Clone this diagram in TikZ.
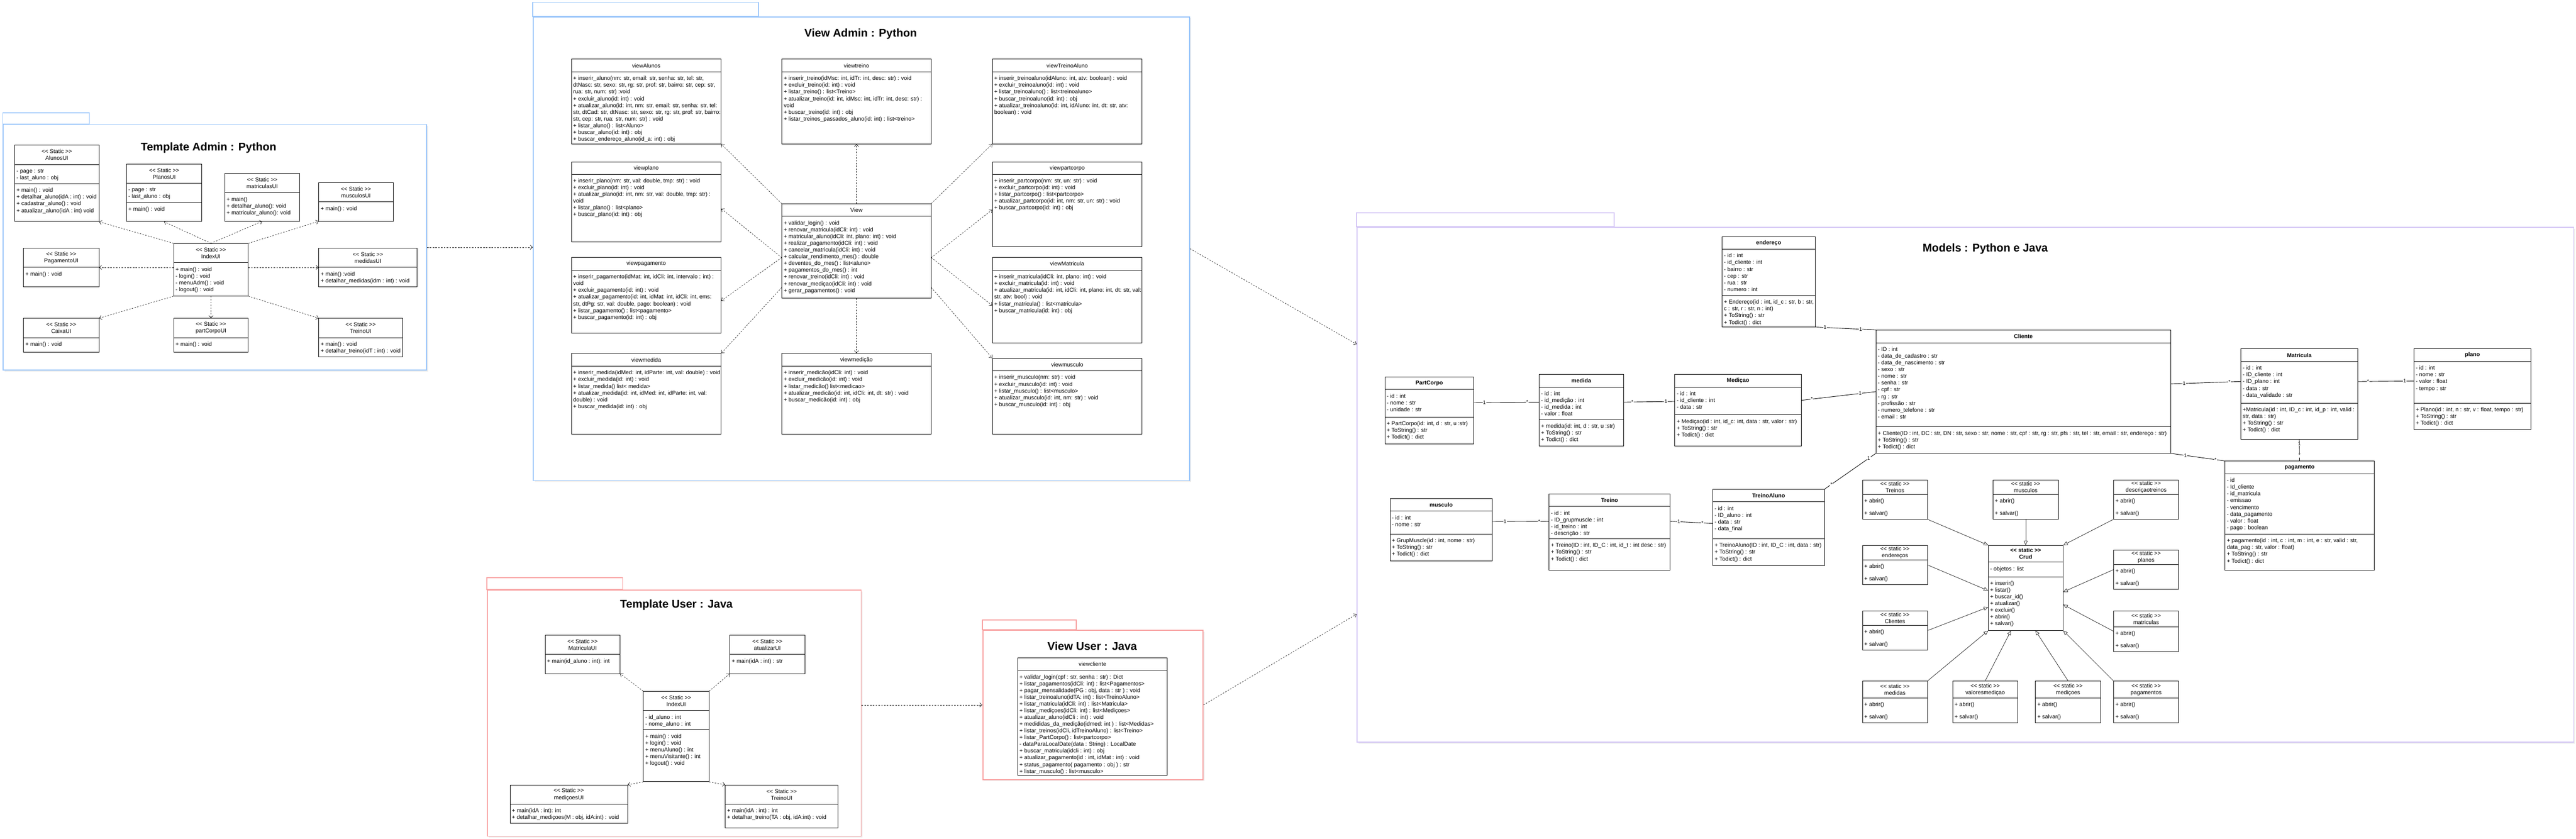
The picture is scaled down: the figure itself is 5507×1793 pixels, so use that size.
\documentclass[tikz,border=0pt]{standalone}
\usepackage{fontspec}
\setmainfont{Liberation Sans}[Ligatures=TeXOff]
\usetikzlibrary{shapes.multipart,arrows.meta,shadows}

\definecolor{pkgblue}{RGB}{150,195,250}
\definecolor{pkgred}{RGB}{248,160,160}
\definecolor{pkgpurple}{RGB}{210,195,245}

% class box parts: width, height, text
\newcommand{\hd}[3]{\parbox[c][#2pt][c]{#1pt}{\centering #3}}
\newcommand{\bd}[3]{\parbox[t][#2pt][t]{#1pt}{\vspace*{7.5pt}\raggedright\leftskip=4pt\rightskip=0pt plus 1fil\strut #3}}

\tikzset{
  uml/.style={draw, rectangle split, rectangle split parts=#1, anchor=north west, inner sep=0pt, line width=1pt, font=\fontsize{12}{14.4}\selectfont},
  dep/.style={dash pattern=on 3pt off 3pt, line width=0.7pt, -{Straight Barb[length=5pt,width=9pt]}},
  inh/.style={line width=0.7pt, -{Triangle[open,length=9pt,width=8pt]}},
  assoc/.style={line width=1pt},
  mult/.style={fill=white, inner sep=0.8pt, font=\fontsize{11}{12}\selectfont},
  pkg/.style={draw=#1, line width=2pt, fill=white, anchor=north west, inner sep=0pt, drop shadow={shadow xshift=3pt, shadow yshift=-3pt, fill=black!15}},
  pkgtab/.style={draw=#1, line width=2pt, fill=white},
  ttl/.style={font=\fontsize{24}{29}\selectfont\bfseries},
}

\begin{document}
\begin{tikzpicture}[x=1pt,y=-1pt]
\useasboundingbox (0,0) rectangle (5507,1793);

% package frames
\draw[pkgtab=pkgblue] (6,241) rectangle (191,265);
\node[pkg=pkgblue, minimum width=905pt, minimum height=525pt] (admPkg) at (6,265) {};
\draw[pkgtab=pkgblue] (1139,5) rectangle (1621,35);
\node[pkg=pkgblue, minimum width=1403pt, minimum height=991pt] (viewAdmPkg) at (1139,35) {};
\draw[pkgtab=pkgpurple] (2900,455) rectangle (3451,485);
\node[pkg=pkgpurple, minimum width=2601pt, minimum height=1100pt] (modelsPkg) at (2900,485) {};
\draw[pkgtab=pkgred] (1041,1235) rectangle (1331,1260);
\node[pkg=pkgred, minimum width=799pt, minimum height=526pt] (usrPkg) at (1041,1260) {};
\draw[pkgtab=pkgred] (2100,1325) rectangle (2301,1346);
\node[pkg=pkgred, minimum width=471pt, minimum height=319pt] (viewUsrPkg) at (2100,1346) {};

\node[ttl] (admTitle) at (446,316) {Template Admin : Python};
\node[ttl] (viewAdmTitle) at (1840,72) {View Admin : Python};
\node[ttl] (modelsTitle) at (4244,532) {Models : Python e Java};
\node[ttl] (usrTitle) at (1446,1293) {Template User : Java};
\node[ttl] (viewUsrTitle) at (2335,1381) {View User : Java};

% Template Admin
\node[uml=3] (AlunosUI) at (31,310) {\hd{180}{40}{<< Static >>\\AlunosUI}\nodepart{two}\bd{180}{40}{- page : str\\- last\_aluno : obj}\nodepart{three}\bd{180}{80}{+ main() : void\\+ detalhar\_aluno(idA : int) : void\\+ cadastrar\_aluno() : void\\+ atualizar\_aluno(idA : int) void}};
\node[uml=3] (PlanosUI) at (270,350) {\hd{161}{40}{<< Static >>\\PlanosUI}\nodepart{two}\bd{161}{40}{- page : str\\- last\_aluno : obj}\nodepart{three}\bd{161}{40}{+ main() : void}};
\node[uml=2] (matriculasUI) at (480,370) {\hd{160}{40}{<< Static >>\\matriculasUI}\nodepart{two}\bd{160}{60}{+ main()\\+ detalhar\_aluno(): void\\+ matricular\_aluno(): void}};
\node[uml=2] (musculosUI) at (681,390) {\hd{159}{40}{<< Static >>\\musculosUI}\nodepart{two}\bd{159}{40}{+ main() : void}};
\node[uml=2] (admIndexUI) at (371,520) {\hd{159}{40}{<< Static >>\\IndexUI}\nodepart{two}\bd{159}{70}{+ main() : void\\- login() : void\\- menuAdm() : void\\- logout() : void}};
\node[uml=2] (PagamentoUI) at (50,530) {\hd{161}{40}{<< Static >>\\PagamentoUI}\nodepart{two}\bd{161}{40}{+ main() : void}};
\node[uml=2] (medidasUI) at (681,530) {\hd{210}{40}{<< Static >>\\medidasUI}\nodepart{two}\bd{210}{40}{+ main() :void\\+ detalhar\_medidas(idm : int) : void}};
\node[uml=2] (CaixaUI) at (50,680) {\hd{161}{40}{<< Static >>\\CaixaUI}\nodepart{two}\bd{161}{30}{+ main() : void}};
\node[uml=2] (partCorpoUI) at (371,680) {\hd{159}{40}{<< Static >>\\partCorpoUI}\nodepart{two}\bd{159}{30}{+ main() : void}};
\node[uml=2] (admTreinoUI) at (681,680) {\hd{179}{40}{<< Static >>\\TreinoUI}\nodepart{two}\bd{179}{40}{+ main() : void\\+ detalhar\_treino(idT : int) : void}};

\foreach \s/\t in {north west/AlunosUI.south east, north/PlanosUI.south, north/matriculasUI.south, north east/musculosUI.south west, south west/CaixaUI.north east, south/partCorpoUI.north, south east/admTreinoUI.north west}
  \draw[dep] (admIndexUI.\s) -- (\t);
\draw[dep] (admIndexUI.west |- PagamentoUI.east) -- (PagamentoUI.east);
\draw[dep] (admIndexUI.east |- medidasUI.west) -- (medidasUI.west);

% View Admin
\node[uml=2] (viewAlunos) at (1221,126) {\hd{320}{26}{viewAlunos}\nodepart{two}\bd{320}{153}{+ inserir\_aluno(nm: str, email: str, senha: str, tel: str,\\dtNasc: str, sexo: str, rg: str, prof: str, bairro: str, cep: str,\\rua: str, num: str) :void\\+ excluir\_aluno(id: int) : void\\+ atualizar\_aluno(id: int, nm: str, email: str, senha: str, tel:\\str, dtCad: str, dtNasc: str, sexo: str, rg: str, prof: str, bairro:\\str, cep: str, rua: str, num: str) : void\\+ listar\_aluno() : list<Aluno>\\+ buscar\_aluno(id: int) : obj\\+ buscar\_endereço\_aluno(id\_a: int) : obj}};
\node[uml=2] (viewtreino) at (1671,126) {\hd{319}{26}{viewtreino}\nodepart{two}\bd{319}{153}{+ inserir\_treino(idMsc: int, idTr: int, desc: str) : void\\+ excluir\_treino(id: int) : void\\+ listar\_treino() : list<Treino>\\+ atualizar\_treino(id: int, idMsc: int, idTr: int, desc: str) :\\void\\+ buscar\_treino(id: int) : obj\\+ listar\_treinos\_passados\_aluno(id: int) : list<treino>}};
\node[uml=2] (viewTreinoAluno) at (2121,126) {\hd{320}{26}{viewTreinoAluno}\nodepart{two}\bd{320}{153}{+ inserir\_treinoaluno(idAluno: int, atv: boolean) : void\\+ excluir\_treinoaluno(id: int) : void\\+ listar\_treinoaluno() : list<treinoaluno>\\+ buscar\_treinoaluno(id: int) : obj\\+ atualizar\_treinoaluno(id: int, idAluno: int, dt: str, atv:\\boolean) : void}};
\node[uml=2] (viewplano) at (1221,346) {\hd{320}{25}{viewplano}\nodepart{two}\bd{320}{144}{+ inserir\_plano(nm: str, val: double, tmp: str) : void\\+ excluir\_plano(id: int) : void\\+ atualizar\_plano(id: int, nm: str, val: double, tmp: str) :\\void\\+ listar\_plano() : list<plano>\\+ buscar\_plano(id: int) : obj}};
\node[uml=2] (viewpartcorpo) at (2121,346) {\hd{320}{25}{viewpartcorpo}\nodepart{two}\bd{320}{154}{+ inserir\_partcorpo(nm: str, un: str) : void\\+ excluir\_partcorpo(id: int) : void\\+ listar\_partcorpo() : list<partcorpo>\\+ atualizar\_partcorpo(id: int, nm: str, un: str) : void\\+ buscar\_partcorpo(id: int) : obj}};
\node[uml=2] (View) at (1671,435) {\hd{319}{26}{View}\nodepart{two}\bd{319}{174}{+ validar\_login() : void\\+ renovar\_matricula(idCli: int) : void\\+ matricular\_aluno(idCli: int, plano: int) : void\\+ realizar\_pagamento(idCli: int) : void\\+ cancelar\_matricula(idCli: int) : void\\+ calcular\_rendimento\_mes() : double\\+ deventes\_do\_mes() : list<aluno>\\+ pagamentos\_do\_mes() : int\\+ renovar\_treino(idCli: int) : void\\+ renovar\_mediçao(idCli: int) : void\\+ gerar\_pagamentos() : void}};
\node[uml=2] (viewpagamento) at (1221,550) {\hd{320}{26}{viewpagamento}\nodepart{two}\bd{320}{134}{+ inserir\_pagamento(idMat: int, idCli: int, intervalo : int) :\\void\\+ excluir\_pagamento(id: int) : void\\+ atualizar\_pagamento(id: int, idMat: int, idCli: int, ems:\\str, dtPg: str, val: double, pago: boolean) : void\\+ listar\_pagamento() : list<pagamento>\\+ buscar\_pagamento(id: int) : obj}};
\node[uml=2] (viewMatricula) at (2121,550) {\hd{320}{26}{viewMatricula}\nodepart{two}\bd{320}{154}{+ inserir\_matricula(idCli: int, plano: int) : void\\+ excluir\_matricula(id: int) : void\\+ atualizar\_matricula(id: int, idCli: int, plano: int, dt: str, val:\\str, atv: bool) : void\\+ listar\_matricula() : list<matricula>\\+ buscar\_matricula(id: int) : obj}};
\node[uml=2] (viewmedida) at (1221,755) {\hd{320}{26}{viewmedida}\nodepart{two}\bd{320}{144}{+ inserir\_medida(idMed: int, idParte: int, val: double) : void\\+ excluir\_medida(id: int) : void\\+ listar\_medida() list< medida>\\+ atualizar\_medida(id: int, idMed: int, idParte: int, val:\\double) : void\\+ buscar\_medida(id: int) : obj}};
\node[uml=2] (viewmedicao) at (1671,755) {\hd{319}{26}{viewmedição}\nodepart{two}\bd{319}{144}{+ inserir\_medicão(idCli: int) : void\\+ excluir\_medicão(id: int) : void\\+ listar\_medicão() list<medicao>\\+ atualizar\_medicão(id: int, idCli: int, dt: str) : void\\+ buscar\_medicão(id: int) : obj}};
\node[uml=2] (viewmusculo) at (2121,765) {\hd{320}{26}{viewmusculo}\nodepart{two}\bd{320}{134}{+ inserir\_musculo(nm: str) : void\\+ excluir\_musculo(id: int) : void\\+ listar\_musculo() : list<musculo>\\+ atualizar\_musculo(id: int, nm: str) : void\\+ buscar\_musculo(id: int) : obj}};

\foreach \s/\t in {north west/viewAlunos.south east, north/viewtreino.south, north east/viewTreinoAluno.south west, 185/viewplano.355, 185/viewpagamento.356, 206/viewmedida.north east, south/viewmedicao.north, 334/viewmusculo.north west, 355/viewMatricula.184, 355/viewpartcorpo.184}
  \draw[dep] (View.\s) -- (\t);

% Template User
\node[uml=2] (MatriculaUI) at (1165,1357) {\hd{160}{40}{<< Static >>\\MatriculaUI}\nodepart{two}\bd{160}{40}{+ main(id\_aluno : int): int}};
\node[uml=2] (atualizarUI) at (1560,1357) {\hd{160}{40}{<< Static >>\\atualizarUI}\nodepart{two}\bd{160}{40}{+ main(idA : int) : str}};
\node[uml=3] (usrIndexUI) at (1375,1477) {\hd{140}{40}{<< Static >>\\IndexUI}\nodepart{two}\bd{140}{40}{- id\_aluno : int\\- nome\_aluno : int}\nodepart{three}\bd{140}{110}{+ main() : void\\+ login() : void\\+ menuAluno() : int\\+ menuVisitante() : int\\+ logout() : void}};
\node[uml=2] (medicoesUI) at (1090,1677) {\hd{251}{40}{<< Static >>\\mediçoesUI}\nodepart{two}\bd{251}{40}{+ main(idA : int): int\\+ detalhar\_mediçoes(M : obj, idA:int) : void}};
\node[uml=2] (usrTreinoUI) at (1550,1677) {\hd{241}{40}{<< Static >>\\TreinoUI}\nodepart{two}\bd{241}{50}{+ main(idA : int) : int\\+ detalhar\_treino(TA : obj, idA:int) : void}};

\foreach \s/\t in {north west/MatriculaUI.south east, north east/atualizarUI.south west, south west/medicoesUI.north east, south east/usrTreinoUI.north west}
  \draw[dep] (usrIndexUI.\s) -- (\t);

% View User
\node[uml=2] (viewcliente) at (2175,1405) {\hd{320}{26}{viewcliente}\nodepart{two}\bd{320}{224}{+ validar\_login(cpf : str, senha : str) : Dict\\+ listar\_pagamentos(idCli: int) : list<Pagamentos>\\+ pagar\_mensalidade(PG : obj, data : str ) : void\\+ listar\_treinoaluno(idTA: int) : list<TreinoAluno>\\+ listar\_matricula(idCli: int) : list<Matricula>\\+ listar\_mediçoes(idCli: int) : list<Mediçoes>\\+ atualizar\_aluno(idCli : int) : void\\+ medididas\_da\_medição(idmed: int ) : list<Medidas>\\+ listar\_treinos(idCli, idTreinoAluno) : list<Treino>\\+ listar\_PartCorpo() : list<partcorpo>\\- dataParaLocalDate(data : String) : LocalDate\\+ buscar\_matricula(idcli : int) : obj\\+ atualizar\_pagamento(id : int, idMat : int) : void\\+ status\_pagamento( pagamento : obj ) : str\\+ listar\_musculo() : list<musculo>}};

% Models
\node[uml=3] (endereco) at (3681,505) {\hd{199}{26}{\textbf{endereço}}\nodepart{two}\bd{199}{98}{- id : int\\- id\_cliente : int\\- bairro : str\\- cep : str\\- rua : str\\- numero : int}\nodepart{three}\bd{199}{66}{+ Endereço(id : int, id\_c : str, b : str,\\ c : str, r : str, n : int)\\+ ToString() : str\\+ Todict() : dict}};
\node[uml=3] (PartCorpo) at (2960,805) {\hd{190}{26}{\textbf{PartCorpo}}\nodepart{two}\bd{190}{58}{- id : int\\- nome : str\\- unidade : str}\nodepart{three}\bd{190}{56}{+ PartCorpo(id: int, d : str, u :str)\\+ ToString() : str\\+ Todict() : dict}};
\node[uml=3] (medida) at (3290,800) {\hd{180}{26}{\textbf{medida}}\nodepart{two}\bd{180}{68}{- id : int\\- id\_medição : int\\- id\_medida : int\\- valor : float}\nodepart{three}\bd{180}{56}{+ medida(id: int, d : str, u :str)\\+ ToString() : str\\+ Todict() : dict}};
\node[uml=3] (Medicao) at (3580,800) {\hd{270}{26}{\textbf{Mediçao}}\nodepart{two}\bd{270}{58}{- id : int\\- id\_cliente : int\\- data : str}\nodepart{three}\bd{270}{66}{+ Mediçao(id : int, id\_c: int, data : str, valor : str)\\+ ToString() : str\\+ Todict() : dict}};
\node[uml=3] (Cliente) at (4010,705) {\hd{630}{26}{\textbf{Cliente}}\nodepart{two}\bd{630}{178}{- ID : int\\- data\_de\_cadastro : str\\- data\_de\_nascimento : str\\- sexo : str\\- nome : str\\- senha : str\\- cpf : str\\- rg : str\\- profissão : str\\- numero\_telefone : str\\- email : str}\nodepart{three}\bd{630}{56}{+ Cliente(ID : int, DC : str, DN : str, sexo : str, nome : str, cpf : str, rg : str, pfs : str, tel : str, email : str, endereço : str)\\+ ToString() : str\\+ Todict() : dict}};
\node[uml=3] (Matricula) at (4790,745) {\hd{250}{26}{\textbf{Matricula}}\nodepart{two}\bd{250}{88}{- id : int\\- ID\_cliente : int\\- ID\_plano : int\\- data : str\\- data\_validade : str}\nodepart{three}\bd{250}{76}{+Matricula(id : int, ID\_c : int, id\_p : int, valid :\\str, data : str)\\+ ToString() : str\\+ Todict() : dict}};
\node[uml=3] (plano) at (5160,745) {\hd{250}{26}{\textbf{plano}}\nodepart{two}\bd{250}{88}{- id : int\\- nome : str\\- valor : float\\- tempo : str}\nodepart{three}\bd{250}{56}{+ Plano(id : int, n : str, v : float, tempo : str)\\+ ToString() : str\\+ Todict() : dict}};
\node[uml=3] (pagamento) at (4756,985) {\hd{319}{26}{\textbf{pagamento}}\nodepart{two}\bd{319}{128}{- id\\- Id\_cliente\\- id\_matricula\\- emissao\\- vencimento\\- data\_pagamento\\- valor : float\\- pago : boolean}\nodepart{three}\bd{319}{76}{+ pagamento(id : int, c : int, m : int, e : str, valid : str,\\data\_pag : str, valor : float)\\+ ToString() : str\\+ Todict() : dict}};
\node[uml=3] (musculo) at (2971,1065) {\hd{219}{26}{\textbf{musculo}}\nodepart{two}\bd{219}{48}{- id : int\\- nome : str}\nodepart{three}\bd{219}{56}{+ GrupMuscle(id : int, nome : str)\\+ ToString() : str\\+ Todict() : dict}};
\node[uml=3] (Treino) at (3311,1055) {\hd{259}{26}{\textbf{Treino}}\nodepart{two}\bd{259}{68}{- id : int\\- ID\_grupmuscle : int\\- id\_treino : int\\- descrição : str}\nodepart{three}\bd{259}{66}{+ Treino(ID : int, ID\_C : int, id\_t : int desc : str)\\+ ToString() : str\\+ Todict() : dict}};
\node[uml=3] (TreinoAluno) at (3661,1045) {\hd{239}{26}{\textbf{TreinoAluno}}\nodepart{two}\bd{239}{78}{- id : int\\- ID\_aluno : int\\- data : str\\- data\_final}\nodepart{three}\bd{239}{56}{+ TreinoAluno(ID : int, ID\_C : int, data : str)\\+ ToString() : str\\+ Todict() : dict}};

% static collections
\node[uml=2] (TreinosS) at (3981,1025) {\hd{139}{30}{<< static >>\\Treinos}\nodepart{two}\bd{139}{52}{+ abrir()\\[11.6pt]+ salvar()}};
\node[uml=2] (musculosS) at (4260,1025) {\hd{140}{30}{<< static >>\\musculos}\nodepart{two}\bd{140}{52}{+ abrir()\\[11.6pt]+ salvar()}};
\node[uml=2] (descricaoS) at (4518,1025) {\hd{139}{30}{<< static >>\\descriçaotreinos}\nodepart{two}\bd{139}{52}{+ abrir()\\[11.6pt]+ salvar()}};
\node[uml=2] (enderecosS) at (3981,1165) {\hd{139}{30}{<< static >>\\endereços}\nodepart{two}\bd{139}{52}{+ abrir()\\[11.6pt]+ salvar()}};
\node[uml=2] (planosS) at (4518,1175) {\hd{139}{30}{<< static >>\\planos}\nodepart{two}\bd{139}{52}{+ abrir()\\[11.6pt]+ salvar()}};
\node[uml=2] (ClientesS) at (3981,1305) {\hd{139}{30}{<< static >>\\Clientes}\nodepart{two}\bd{139}{52}{+ abrir()\\[11.6pt]+ salvar()}};
\node[uml=2] (matriculasS) at (4518,1305) {\hd{139}{33}{<< static >>\\matriculas}\nodepart{two}\bd{139}{52}{+ abrir()\\[11.6pt]+ salvar()}};
\node[uml=2] (medidasS) at (3981,1455) {\hd{139}{35}{<< static >>\\medidas}\nodepart{two}\bd{139}{52}{+ abrir()\\[11.6pt]+ salvar()}};
\node[uml=2] (valoresS) at (4174,1455) {\hd{139}{35}{<< static >>\\valoresmediçao}\nodepart{two}\bd{139}{52}{+ abrir()\\[11.6pt]+ salvar()}};
\node[uml=2] (medicoesS) at (4351,1455) {\hd{139}{35}{<< static >>\\mediçoes}\nodepart{two}\bd{139}{52}{+ abrir()\\[11.6pt]+ salvar()}};
\node[uml=2] (pagamentosS) at (4518,1455) {\hd{139}{35}{<< static >>\\pagamentos}\nodepart{two}\bd{139}{52}{+ abrir()\\[11.6pt]+ salvar()}};
\node[uml=3] (Crud) at (4250,1165) {\hd{160}{35}{\textbf{<< static >>}\\\textbf{Crud}}\nodepart{two}\bd{160}{30}{- objetos : list}\nodepart{three}\bd{160}{114}{+ inserir()\\+ listar()\\+ buscar\_id()\\+ atualizar()\\+ excluir()\\+ abrir()\\+ salvar()}};

\foreach \s/\t in {TreinosS.south east/north west, musculosS.south/north, descricaoS.south west/north east, enderecosS.east/184, planosS.west/354, ClientesS.east/207, matriculasS.west/336, medidasS.north east/south west, valoresS.north/251, medicoesS.north/283, pagamentosS.north west/south east}
  \draw[inh] (\s) -- (Crud.\t);

% associations
\draw[assoc] (endereco.south east) -- node[mult,pos=.16]{1} node[mult,pos=.75]{1} (Cliente.north west);
\draw[assoc] (Medicao.9) -- node[mult,pos=.14]{*} node[mult,pos=.79]{1} (Cliente.west);
\draw[assoc] (medida.11) -- node[mult,pos=.17]{*} node[mult,pos=.83]{1} (Medicao.172);
\draw[assoc] (PartCorpo.10) -- node[mult,pos=.16]{1} node[mult,pos=.82]{*} (medida.169);
\draw[assoc] (Cliente.south west) -- node[mult,pos=.14]{1} node[mult,pos=.87]{*} (TreinoAluno.north east);
\draw[assoc] (Treino.10) -- node[mult,pos=.2]{1} node[mult,pos=.76]{*} (TreinoAluno.176);
\draw[assoc] (musculo.9) -- node[mult,pos=.22]{1} node[mult,pos=.83]{*} (Treino.170);
\draw[assoc] (Cliente.3) -- node[mult,pos=.19]{1} node[mult,pos=.84]{*} (Matricula.168);
\draw[assoc] (Matricula.12) -- node[mult,pos=.18]{*} node[mult,pos=.84]{1} (plano.172);
\draw[assoc] (Cliente.south east) -- node[mult,pos=.27]{1} node[mult,pos=.83]{*} (pagamento.north west);
\draw[assoc] (Matricula.south) -- node[mult,pos=.2]{1} node[mult,pos=.74]{*} (pagamento.north);

% between packages
\draw[dep] (admPkg.east) -- (viewAdmPkg.west |- admPkg.east);
\draw[dep] (viewAdmPkg.east) -- (modelsPkg.167.5);
\draw[dep] (usrPkg.east |- viewUsrPkg.west) -- (viewUsrPkg.west);
\draw[dep] (viewUsrPkg.east) -- (modelsPkg.192);
\end{tikzpicture}
\end{document}
